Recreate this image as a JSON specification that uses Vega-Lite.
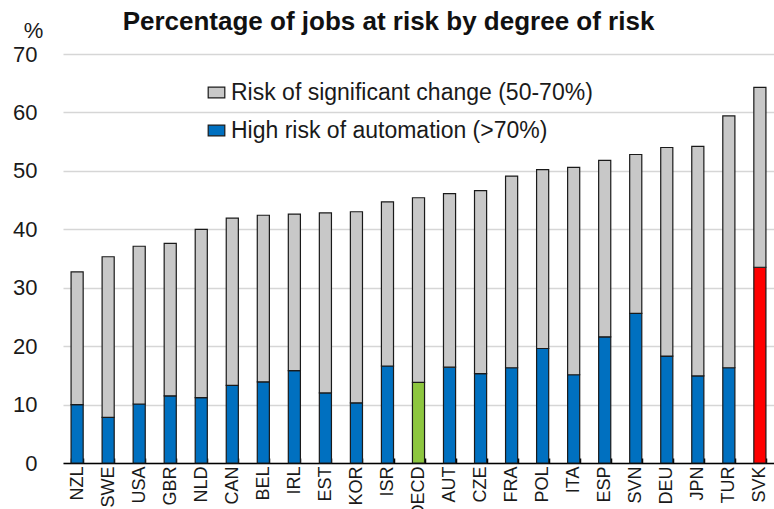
{
  "$schema": "https://vega.github.io/schema/vega-lite/v6.json",
  "width": 711,
  "height": 409,
  "autosize": {"type": "none"},
  "padding": {"left": 63, "top": 54, "right": 0, "bottom": 46},
  "background": "white",
  "config": {
    "font": "Liberation Sans",
    "view": {"stroke": null}
  },
  "title": {
    "text": "Percentage of jobs at risk by degree of risk",
    "fontSize": 26,
    "fontWeight": "bold",
    "color": "#111111",
    "anchor": "middle",
    "frame": "group",
    "offset": 0,
    "dy": 16,
    "dx": -30
  },
  "data": {
    "values": [
      {"country": "NZL", "risk": "High risk of automation (>70%)", "value": 10.0},
      {"country": "NZL", "risk": "Risk of significant change (50-70%)", "value": 22.7},
      {"country": "SWE", "risk": "High risk of automation (>70%)", "value": 7.8},
      {"country": "SWE", "risk": "Risk of significant change (50-70%)", "value": 27.5},
      {"country": "USA", "risk": "High risk of automation (>70%)", "value": 10.1},
      {"country": "USA", "risk": "Risk of significant change (50-70%)", "value": 27.0},
      {"country": "GBR", "risk": "High risk of automation (>70%)", "value": 11.5},
      {"country": "GBR", "risk": "Risk of significant change (50-70%)", "value": 26.1},
      {"country": "NLD", "risk": "High risk of automation (>70%)", "value": 11.2},
      {"country": "NLD", "risk": "Risk of significant change (50-70%)", "value": 28.8},
      {"country": "CAN", "risk": "High risk of automation (>70%)", "value": 13.3},
      {"country": "CAN", "risk": "Risk of significant change (50-70%)", "value": 28.6},
      {"country": "BEL", "risk": "High risk of automation (>70%)", "value": 13.9},
      {"country": "BEL", "risk": "Risk of significant change (50-70%)", "value": 28.5},
      {"country": "IRL", "risk": "High risk of automation (>70%)", "value": 15.8},
      {"country": "IRL", "risk": "Risk of significant change (50-70%)", "value": 26.8},
      {"country": "EST", "risk": "High risk of automation (>70%)", "value": 12.0},
      {"country": "EST", "risk": "Risk of significant change (50-70%)", "value": 30.8},
      {"country": "KOR", "risk": "High risk of automation (>70%)", "value": 10.3},
      {"country": "KOR", "risk": "Risk of significant change (50-70%)", "value": 32.7},
      {"country": "ISR", "risk": "High risk of automation (>70%)", "value": 16.6},
      {"country": "ISR", "risk": "Risk of significant change (50-70%)", "value": 28.1},
      {"country": "OECD", "risk": "High risk of automation (>70%)", "value": 13.8},
      {"country": "OECD", "risk": "Risk of significant change (50-70%)", "value": 31.6},
      {"country": "AUT", "risk": "High risk of automation (>70%)", "value": 16.4},
      {"country": "AUT", "risk": "Risk of significant change (50-70%)", "value": 29.7},
      {"country": "CZE", "risk": "High risk of automation (>70%)", "value": 15.3},
      {"country": "CZE", "risk": "Risk of significant change (50-70%)", "value": 31.3},
      {"country": "FRA", "risk": "High risk of automation (>70%)", "value": 16.3},
      {"country": "FRA", "risk": "Risk of significant change (50-70%)", "value": 32.8},
      {"country": "POL", "risk": "High risk of automation (>70%)", "value": 19.6},
      {"country": "POL", "risk": "Risk of significant change (50-70%)", "value": 30.6},
      {"country": "ITA", "risk": "High risk of automation (>70%)", "value": 15.1},
      {"country": "ITA", "risk": "Risk of significant change (50-70%)", "value": 35.5},
      {"country": "ESP", "risk": "High risk of automation (>70%)", "value": 21.6},
      {"country": "ESP", "risk": "Risk of significant change (50-70%)", "value": 30.2},
      {"country": "SVN", "risk": "High risk of automation (>70%)", "value": 25.6},
      {"country": "SVN", "risk": "Risk of significant change (50-70%)", "value": 27.2},
      {"country": "DEU", "risk": "High risk of automation (>70%)", "value": 18.3},
      {"country": "DEU", "risk": "Risk of significant change (50-70%)", "value": 35.7},
      {"country": "JPN", "risk": "High risk of automation (>70%)", "value": 14.9},
      {"country": "JPN", "risk": "Risk of significant change (50-70%)", "value": 39.3},
      {"country": "TUR", "risk": "High risk of automation (>70%)", "value": 16.3},
      {"country": "TUR", "risk": "Risk of significant change (50-70%)", "value": 43.1},
      {"country": "SVK", "risk": "High risk of automation (>70%)", "value": 33.5},
      {"country": "SVK", "risk": "Risk of significant change (50-70%)", "value": 30.8}
    ]
  },
  "mark": {"type": "bar", "stroke": "#1a1a1a", "strokeWidth": 1.2},
  "encoding": {
    "x": {
      "field": "country",
      "type": "nominal",
      "sort": null,
      "scale": {"paddingInner": 0.61, "paddingOuter": 0.26},
      "axis": {
        "title": null,
        "labelAngle": -90,
        "labelFontSize": 18,
        "labelColor": "#1a1a1a",
        "labelPadding": 8,
        "domainColor": "#000000",
        "domainWidth": 1.5,
        "tickColor": "#000000",
        "tickWidth": 1.5,
        "tickSize": -5,
        "tickBand": "extent",
        "grid": false
      }
    },
    "y": {
      "field": "value",
      "type": "quantitative",
      "stack": "zero",
      "scale": {"domain": [0, 70], "nice": false},
      "axis": {
        "title": "%",
        "titleAngle": 0,
        "titleX": -30,
        "titleY": -24,
        "titleAlign": "center",
        "titleBaseline": "middle",
        "titleFontSize": 22,
        "titleFontWeight": "normal",
        "titleColor": "#1a1a1a",
        "values": [0, 10, 20, 30, 40, 50, 60, 70],
        "labelFontSize": 22,
        "labelColor": "#1a1a1a",
        "labelPadding": 26,
        "domain": false,
        "ticks": false,
        "grid": true,
        "gridColor": "#D6D6D6",
        "gridWidth": 1.6
      }
    },
    "order": {"field": "risk", "sort": "ascending"},
    "color": {
      "field": "risk",
      "type": "nominal",
      "scale": {
        "domain": ["Risk of significant change (50-70%)", "High risk of automation (>70%)"],
        "range": ["#C8C8C8", "#0070C0"]
      },
      "condition": [
        {"test": "datum.country === 'OECD' && datum.risk === 'High risk of automation (>70%)'", "value": "#8DC63F"},
        {"test": "datum.country === 'SVK' && datum.risk === 'High risk of automation (>70%)'", "value": "#FF0000"}
      ],
      "legend": {
        "title": null,
        "orient": "none",
        "legendX": 142,
        "legendY": 27,
        "padding": 0,
        "labelFontSize": 23,
        "labelColor": "#1a1a1a",
        "labelOffset": 3,
        "labelLimit": 600,
        "rowPadding": 14,
        "symbolType": "M-1,-0.64H1V0.64H-1Z",
        "symbolSize": 276,
        "symbolStrokeColor": "#1a1a1a",
        "symbolStrokeWidth": 1.2,
        "symbolOpacity": 1
      }
    }
  }
}
